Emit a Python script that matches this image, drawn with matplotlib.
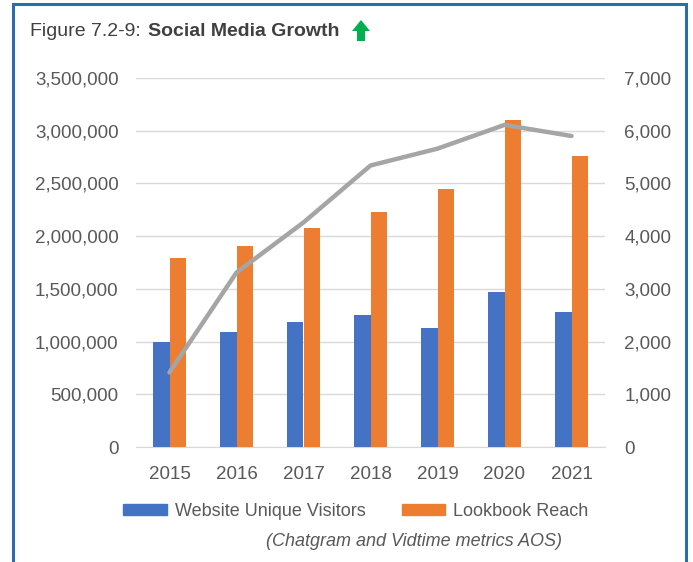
import matplotlib
matplotlib.use("Agg")
import matplotlib.pyplot as plt
import numpy as np
from matplotlib.patches import Rectangle, Polygon, Patch
from matplotlib.ticker import FuncFormatter, MultipleLocator

plt.rcParams['font.family'] = ['Liberation Sans', 'DejaVu Sans']

years = ["2015", "2016", "2017", "2018", "2019", "2020", "2021"]
website_visitors = [1000000, 1095000, 1184000, 1254000, 1130000, 1473000, 1283000]
lookbook_reach = [1790000, 1908000, 2076000, 2226000, 2448000, 3098000, 2759000]
social_line = [1415, 3310, 4260, 5340, 5660, 6110, 5900]

W, H = 693, 562
fig = plt.figure(figsize=(W / 100, H / 100), dpi=100)

def fx(px):
    return px / W

def fy(py):
    return 1 - py / H

ax = fig.add_axes([fx(136), fy(447), fx(605) - fx(136), fy(78) - fy(447)])
ax2 = ax.twinx()

x = np.arange(len(years))
bw = 0.24
blue = "#4472c4"
orange = "#ed7d31"
gray = "#a5a5a5"
txt = "#595959"

ax.bar(x - bw / 2, website_visitors, bw, color=blue, zorder=3, label="Website Unique Visitors")
ax.bar(x + bw / 2, lookbook_reach, bw, color=orange, zorder=3, label="Lookbook Reach")
ax2.plot(x, social_line, color=gray, lw=3.2, solid_capstyle="round", zorder=4)

ax.set_xlim(-0.5, len(years) - 0.5)
ax.set_ylim(0, 3500000)
ax2.set_ylim(0, 7000)
ax.yaxis.set_major_locator(MultipleLocator(500000))
ax2.yaxis.set_major_locator(MultipleLocator(1000))
ax.yaxis.set_major_formatter(FuncFormatter(lambda v, p: f"{int(v):,}"))
ax2.yaxis.set_major_formatter(FuncFormatter(lambda v, p: f"{int(v):,}"))
ax.set_xticks(x)
ax.set_xticklabels(years)

ax.grid(axis="y", color="#d9d9d9", lw=1, zorder=0)
ax.set_axisbelow(True)
for a in (ax, ax2):
    for s in ("top", "left", "right"):
        a.spines[s].set_visible(False)
    a.spines["bottom"].set_color("#d9d9d9")
    a.tick_params(length=0, labelsize=13.5, colors=txt)
ax2.spines["bottom"].set_visible(False)
ax.tick_params(axis="y", pad=12.5)
ax2.tick_params(axis="y", pad=14)
ax.tick_params(axis="x", pad=14)

# title
fig.text(fx(30), fy(31), "Figure 7.2-9: ", fontsize=14, color="#404040", va="center", ha="left")
fig.text(fx(148), fy(31), "Social Media Growth", fontsize=14, color="#404040", va="center",
         ha="left", fontweight="bold")
# green arrow
ax_px = [(352, 31), (361, 20), (370, 31), (365, 31), (365, 41), (357, 41), (357, 31)]
fig.patches.append(Polygon([(fx(a), fy(b)) for a, b in ax_px], closed=True,
                           transform=fig.transFigure, facecolor="#00b050", edgecolor="none"))

# legend
handles = [Patch(color=blue), Patch(color=orange)]
fig.legend(handles, ["Website Unique Visitors", "Lookbook Reach"], loc="center",
           bbox_to_anchor=(fx(356), fy(511)), ncol=2, frameon=False, fontsize=13,
           handlelength=2.4, handleheight=0.55, handletextpad=0.45, columnspacing=2.0,
           labelcolor=txt)
fig.text(fx(414), fy(541), "(Chatgram and Vidtime metrics AOS)", fontsize=13,
         style="italic", color=txt, ha="center", va="center")

# border
fig.patches.append(Rectangle((fx(13), fy(575)), fx(686) - fx(13), fy(4) - fy(575),
                             transform=fig.transFigure, fill=False, edgecolor="#2b6cab",
                             lw=2.2))

fig.savefig("out.png", dpi=100)
